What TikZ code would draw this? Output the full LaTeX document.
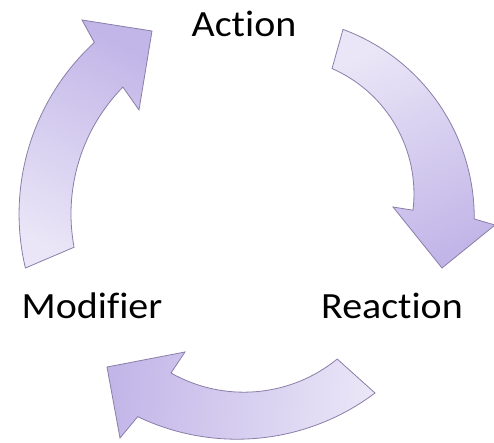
\documentclass[tikz,border=0pt]{standalone}
\usepackage{fontspec}
\setmainfont{Carlito}[Ligatures=CommonOff]

\definecolor{headcol}{RGB}{194,182,232}
\definecolor{tailcol}{RGB}{234,230,247}
\definecolor{rimcol}{RGB}{138,126,168}

\begin{document}
\begin{tikzpicture}[
  x=1pt,y=-1pt,
  cyclearrow/.style={draw=rimcol,line width=0.8pt,line join=miter,bottom color=tailcol,top color=headcol},
  word/.style={anchor=base,inner sep=0pt,font=\fontsize{37}{40}\selectfont}
]
\useasboundingbox (0,0) rectangle (494,443);
% left arrow, up to Action
\path[cyclearrow,shading angle=-27] (25.4,268) arc[start angle=166.6,end angle=227.4,radius=233]
  -- (82,20) -- (152,31) -- (139,110) -- (122.9,87.1)
  arc[start angle=224.5,end angle=169.4,radius=181] -- cycle;
% right arrow, down to Reaction
\path[cyclearrow,shading angle=204] (343,29.4) arc[start angle=290.3,end angle=360.3,radius=201]
  -- (495,225) -- (442,268) -- (393,207) -- (413,210.2)
  arc[start angle=6.8,end angle=-66.3,radius=137] -- cycle;
% bottom arrow, back to Modifier
\path[cyclearrow,shading angle=85] (375,393) arc[start angle=53,end angle=115.6,radius=229.5]
  -- (120,438) -- (107,367) -- (185,352) -- (171,373)
  arc[start angle=119.5,end angle=50.9,radius=148] -- cycle;
\node[word] (act) at (244,37) {\scalebox{1.08}[1]{Action}};
\node[word] (react) at (392,318) {\scalebox{1.08}[1]{Reaction}};
\node[word] (mod) at (92,318) {\scalebox{1.08}[1]{Modifier}};
\end{tikzpicture}
\end{document}
